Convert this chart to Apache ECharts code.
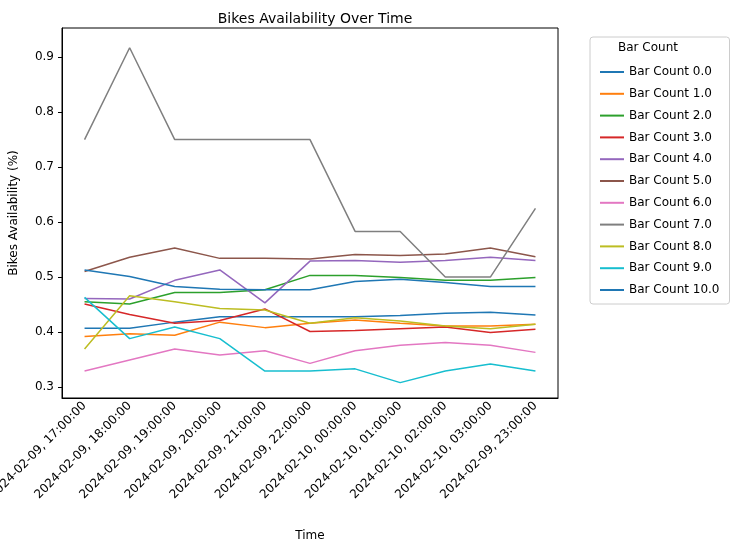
<!DOCTYPE html>
<html><head><meta charset="utf-8">
<script src="https://cdn.jsdelivr.net/npm/echarts@6/dist/echarts.min.js"></script>
<style>body{margin:0;background:#fff}#c{width:754px;height:556px}</style>
</head><body><div id="c"></div>
<script>
const times = ['2024-02-09, 17:00:00','2024-02-09, 18:00:00','2024-02-09, 19:00:00','2024-02-09, 20:00:00','2024-02-09, 21:00:00','2024-02-09, 22:00:00','2024-02-10, 00:00:00','2024-02-10, 01:00:00','2024-02-10, 02:00:00','2024-02-10, 03:00:00','2024-02-09, 23:00:00']
const bc0 = [0.407,0.407,0.418,0.428,0.428,0.428,0.428,0.430,0.434,0.436,0.431]
const bc1 = [0.392,0.397,0.394,0.418,0.408,0.416,0.422,0.416,0.411,0.411,0.414]
const bc2 = [0.455,0.451,0.472,0.472,0.477,0.503,0.503,0.499,0.494,0.494,0.499]
const bc3 = [0.451,0.432,0.416,0.421,0.442,0.401,0.403,0.406,0.409,0.399,0.405]
const bc4 = [0.461,0.460,0.494,0.513,0.453,0.529,0.530,0.527,0.530,0.536,0.530]
const bc5 = [0.510,0.536,0.553,0.534,0.534,0.533,0.541,0.539,0.542,0.553,0.537]
const bc6 = [0.329,0.349,0.369,0.358,0.366,0.343,0.366,0.376,0.381,0.376,0.363]
const bc7 = [0.75,0.917,0.75,0.75,0.75,0.75,0.583,0.583,0.5,0.5,0.625]
const bc8 = [0.369,0.466,0.455,0.443,0.440,0.416,0.426,0.420,0.411,0.406,0.414]
const bc9 = [0.463,0.388,0.409,0.388,0.329,0.329,0.333,0.308,0.329,0.342,0.329]
const bc10 = [0.513,0.501,0.483,0.478,0.477,0.477,0.492,0.496,0.490,0.483,0.483]
const yTicks = [0.3,0.4,0.5,0.6,0.7,0.8,0.9]

const names = ['Bar Count 0.0','Bar Count 1.0','Bar Count 2.0','Bar Count 3.0','Bar Count 4.0','Bar Count 5.0','Bar Count 6.0','Bar Count 7.0','Bar Count 8.0','Bar Count 9.0','Bar Count 10.0']
const values = [bc0,bc1,bc2,bc3,bc4,bc5,bc6,bc7,bc8,bc9,bc10]
const colors = ['#1f77b4','#ff7f0e','#2ca02c','#d62728','#9467bd','#8c564b','#e377c2','#7f7f7f','#bcbd22','#17becf','#1f77b4']
const font = 'DejaVu Sans'

const chart = echarts.init(document.getElementById('c'))
chart.setOption({
  animation: false,
  textStyle: { fontFamily: font },
  title: { text: 'Bikes Availability Over Time', left: 310, top: 7, textAlign: 'center',
    textStyle: { fontSize: 14, fontWeight: 'normal', color: '#000', fontFamily: font } },
  grid: { left: 62, right: 196, top: 28, bottom: 158, show: true, borderColor: '#000', borderWidth: 1,
    containLabel: false, outerBoundsMode: 'none' },
  legend: {
    orient: 'vertical', left: 590, top: 37, itemWidth: 24, itemHeight: 2, itemGap: 9.8,
    padding: [29, 10, 8, 10], borderColor: '#ccc', borderWidth: 1, borderRadius: 3,
    icon: 'rect', textStyle: { fontSize: 12, color: '#000', fontFamily: font }, data: names
  },
  graphic: [{ type: 'text', left: 618, top: 42, style: { text: 'Bar Count', font: '12px DejaVu Sans', fill: '#000' } }],
  xAxis: {
    type: 'category', data: times, boundaryGap: true, name: 'Time', nameLocation: 'middle', nameGap: 132,
    nameTextStyle: { fontSize: 12, color: '#000' },
    axisLine: { lineStyle: { color: '#000' } },
    axisTick: { alignWithLabel: true, length: 4, lineStyle: { color: '#000' } },
    axisLabel: { rotate: 45, interval: 0, fontSize: 12, color: '#000', margin: 6 }
  },
  yAxis: {
    type: 'value', min: 0.28, max: 0.953, name: 'Bikes Availability (%)', nameLocation: 'middle', nameGap: 42,
    nameTextStyle: { fontSize: 12, color: '#000' },
    splitLine: { show: false },
    axisLine: { show: true, lineStyle: { color: '#000' } },
    axisTick: { show: true, length: 4, customValues: yTicks, lineStyle: { color: '#000' } },
    axisLabel: { fontSize: 12, color: '#000', customValues: yTicks, formatter: v => v.toFixed(1) }
  },
  series: names.map((n, i) => ({
    name: n, type: 'line', data: values[i], symbol: 'none', color: colors[i],
    lineStyle: { width: 1.5, color: colors[i] }
  }))
})
</script></body></html>
